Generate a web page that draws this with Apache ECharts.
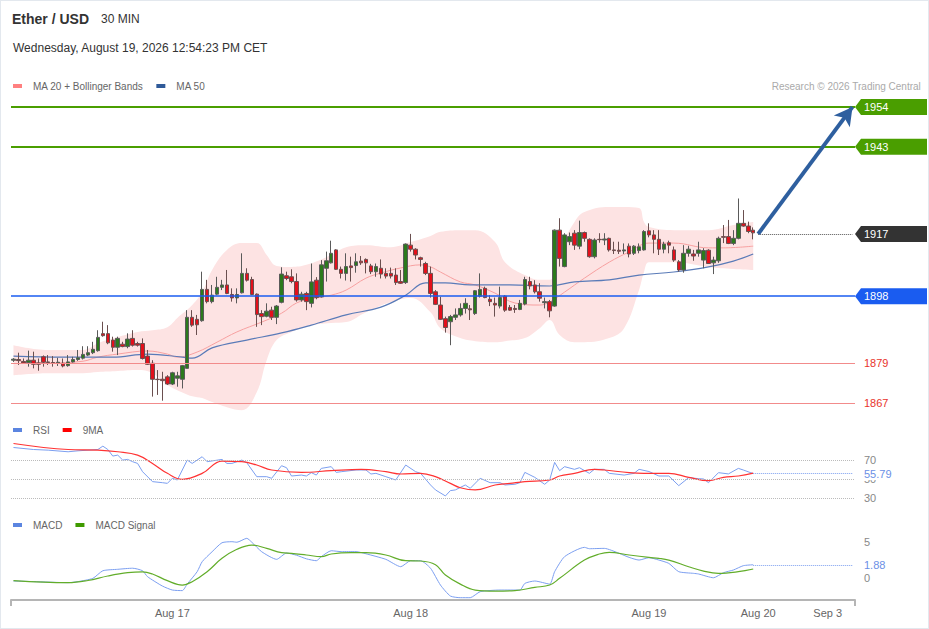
<!DOCTYPE html>
<html>
<head>
<meta charset="utf-8">
<script src="https://cdn.jsdelivr.net/npm/echarts@6/dist/echarts.min.js"></script>
<style>
html,body{margin:0;padding:0;background:#fff;}
#wrap{position:relative;width:929px;height:629px;}
#main{position:absolute;left:0;top:0;width:929px;height:629px;}
#frame{position:absolute;left:0;top:0;width:929px;height:629px;box-sizing:border-box;border:1px solid #e3e8ee;pointer-events:none;}
</style>
</head>
<body>
<div id="wrap"><div id="main"></div><div id="frame"></div></div>
<script>
// ---------- DATA ----------
const slotCount = 170; // 150 half-hour candles + empty space on the right
const xTickIndex = [32, 80, 128, 150, 164];
const xTickText = ['Aug 17', 'Aug 18', 'Aug 19', 'Aug 20', 'Sep 3'];

// candles: [open, close, low, high]
const candles = [
[1879.6,1879.9,1879.1,1880.2],[1879.8,1879.5,1878.2,1881.8],[1879.2,1878.8,1878.5,1880.1],[1878.9,1879.6,1877.7,1882.4],
[1879.6,1878.4,1877.2,1882.1],[1878.8,1878.4,1876.5,1880.1],[1880.6,1879.0,1877.7,1881.0],[1879.1,1878.9,1878.2,1881.1],
[1878.9,1878.8,1877.7,1880.8],[1878.8,1879.0,1877.9,1880.3],[1878.7,1877.9,1877.5,1880.1],[1878.0,1879.1,1877.7,1881.1],
[1879.1,1879.8,1878.9,1880.6],[1879.8,1880.3,1879.4,1882.6],[1880.2,1881.3,1879.8,1883.7],[1881.1,1881.8,1880.8,1883.7],
[1881.8,1882.8,1881.4,1885.0],[1882.4,1886.3,1882.1,1888.4],[1887.4,1886.8,1886.5,1890.9],[1887.4,1884.7,1884.3,1889.9],
[1885.5,1883.4,1882.1,1886.5],[1883.4,1886.0,1881.1,1886.5],[1884.3,1883.6,1883.4,1885.0],[1883.6,1885.8,1883.1,1887.5],
[1886.0,1884.0,1883.6,1888.4],[1884.5,1884.0,1883.6,1885.0],[1884.5,1880.1,1879.8,1886.0],[1880.8,1878.4,1878.2,1882.6],
[1878.7,1874.0,1868.9,1879.6],[1874.0,1873.9,1869.4,1876.7],[1874.0,1873.6,1867.7,1876.2],[1874.7,1872.6,1872.3,1875.2],
[1872.6,1875.9,1872.3,1876.2],[1874.3,1875.0,1871.8,1876.2],[1874.0,1878.0,1871.3,1878.2],[1877.2,1892.2,1877.2,1894.3],
[1892.2,1889.9,1889.4,1894.3],[1891.6,1890.0,1887.0,1892.9],[1891.2,1900.4,1890.9,1905.6],[1900.4,1896.8,1896.3,1903.2],
[1896.8,1898.7,1896.3,1901.7],[1899.0,1901.0,1898.7,1904.1],[1901.0,1901.7,1900.2,1903.2],[1901.7,1899.2,1899.0,1906.1],
[1898.9,1897.9,1896.8,1900.7],[1897.9,1898.9,1896.3,1900.7],[1899.4,1905.1,1899.2,1911.0],[1905.1,1903.1,1902.7,1906.6],
[1903.3,1898.9,1898.7,1904.1],[1899.0,1893.0,1889.4,1899.2],[1893.3,1892.4,1889.9,1894.3],[1892.5,1894.0,1892.2,1896.3],
[1894.3,1892.2,1891.4,1895.3],[1892.2,1895.5,1890.2,1895.8],[1896.6,1904.9,1896.3,1906.9],[1904.4,1903.6,1903.1,1905.6],
[1904.1,1902.7,1902.2,1906.3],[1902.7,1897.3,1896.8,1905.1],[1897.3,1899.0,1896.8,1899.7],[1899.2,1896.8,1894.3,1899.7],
[1896.3,1902.6,1895.1,1908.0],[1903.1,1898.0,1897.5,1904.0],[1898.2,1907.6,1898.0,1909.0],[1906.6,1908.8,1902.7,1911.5],
[1908.2,1911.0,1908.0,1914.7],[1912.0,1906.3,1906.1,1912.2],[1906.3,1905.1,1903.6,1907.1],[1905.1,1907.1,1903.0,1911.0],
[1907.3,1906.8,1902.7,1910.0],[1907.4,1908.5,1905.3,1911.0],[1908.7,1908.2,1907.6,1910.2],[1909.2,1908.2,1905.1,1909.5],
[1907.3,1905.6,1904.9,1907.9],[1905.6,1907.1,1904.1,1908.0],[1906.6,1904.9,1903.6,1909.2],[1905.1,1904.3,1903.6,1906.6],
[1905.1,1904.3,1903.6,1906.8],[1904.6,1902.4,1901.7,1906.6],[1902.7,1902.2,1902.0,1906.1],[1902.4,1913.7,1902.0,1913.9],
[1913.4,1912.2,1911.5,1916.7],[1912.2,1910.5,1909.2,1912.5],[1909.7,1909.2,1907.1,1910.0],[1908.0,1905.1,1904.6,1908.5],
[1905.1,1899.2,1898.0,1907.1],[1899.7,1896.0,1895.8,1900.2],[1895.8,1891.6,1891.4,1898.2],[1891.8,1889.2,1887.7,1892.4],
[1890.9,1892.4,1884.0,1892.9],[1892.2,1892.9,1891.4,1894.8],[1892.9,1894.8,1892.4,1896.3],[1894.8,1896.3,1893.3,1897.8],
[1894.7,1894.4,1891.4,1895.8],[1893.3,1900.0,1892.9,1900.2],[1898.4,1900.4,1898.0,1905.1],[1900.7,1898.0,1897.8,1901.2],
[1897.5,1896.8,1895.5,1898.7],[1896.3,1895.8,1892.4,1898.0],[1895.5,1898.0,1894.8,1901.2],[1898.4,1894.3,1893.8,1898.7],
[1895.1,1894.3,1894.1,1895.8],[1894.8,1894.5,1893.5,1895.8],[1894.5,1896.3,1894.3,1897.3],[1896.1,1903.3,1895.7,1904.1],
[1902.7,1901.4,1900.4,1904.1],[1901.7,1899.7,1899.2,1903.1],[1899.7,1897.8,1896.8,1902.2],[1896.5,1896.8,1894.8,1898.0],
[1896.8,1894.1,1892.2,1897.3],[1895.5,1917.8,1895.3,1918.0],[1917.8,1909.5,1907.1,1921.3],[1907.1,1916.4,1906.9,1916.9],
[1914.4,1915.9,1913.4,1917.1],[1916.9,1913.4,1912.0,1917.8],[1913.1,1917.1,1912.2,1920.6],[1917.1,1915.4,1914.4,1917.4],
[1915.1,1910.0,1909.7,1915.4],[1910.0,1914.9,1909.5,1915.4],[1915.1,1915.0,1914.1,1916.9],[1914.9,1915.2,1913.4,1916.9],
[1915.4,1912.0,1911.5,1915.6],[1912.0,1911.8,1910.8,1914.4],[1911.9,1911.6,1910.8,1914.4],[1911.7,1912.0,1910.8,1913.9],
[1913.1,1910.8,1909.8,1913.9],[1911.0,1913.1,1910.5,1913.4],[1911.8,1912.9,1911.0,1913.9],[1912.0,1917.4,1911.8,1917.8],
[1917.6,1916.4,1915.7,1919.8],[1916.4,1915.1,1911.0,1917.8],[1915.1,1912.2,1910.5,1917.8],[1912.2,1913.7,1911.0,1914.4],
[1914.1,1913.4,1911.0,1914.7],[1912.0,1909.0,1908.5,1913.0],[1908.5,1906.1,1905.6,1909.0],[1906.1,1911.0,1905.3,1913.4],
[1911.0,1912.2,1910.0,1913.2],[1910.8,1910.2,1908.8,1912.0],[1911.0,1912.0,1910.0,1914.4],[1909.0,1911.8,1906.6,1912.5],
[1911.9,1908.0,1907.9,1912.2],[1908.2,1909.0,1904.9,1910.0],[1908.8,1915.4,1908.2,1915.9],[1915.9,1915.7,1914.0,1919.3],
[1915.9,1913.9,1913.7,1920.8],[1913.9,1915.4,1913.4,1917.8],[1915.4,1919.8,1915.1,1927.1],[1919.8,1919.0,1918.8,1923.7],
[1919.0,1917.4,1916.9,1920.3],[1917.8,1917.0,1915.1,1918.6]
];

// Bollinger band samples [candle index, price]
const bbUpper = [[0,1884.0],[7,1882.6],[14,1882.6],[17,1884.6],[21,1886.4],[25,1887.9],[28,1888.4],[31,1889.3],[33,1892.0],[36,1895.8],[38,1899.6],[40,1906.1],[43,1912.0],[46,1914.0],[49,1914.0],[51,1910.5],[53,1907.3],[56,1907.0],[59,1907.6],[64,1910.5],[67,1912.8],[71,1913.4],[76,1912.8],[80,1914.3],[84,1916.1],[86,1917.3],[90,1917.8],[93,1917.8],[97,1914.3],[99,1908.4],[103,1904.6],[106,1903.2],[108,1903.2],[110,1912.0],[113,1920.2],[115,1923.1],[120,1924.6],[123,1924.6],[126,1924.3],[127,1920.2],[128,1918.7],[133,1917.8],[140,1917.8],[145,1919.3],[149,1920.2]];
const bbLower = [[0,1875.2],[7,1875.8],[14,1875.8],[17,1876.1],[21,1876.4],[25,1876.7],[28,1875.8],[31,1872.3],[33,1870.8],[36,1869.0],[38,1868.5],[40,1867.3],[43,1865.8],[46,1864.9],[49,1870.2],[51,1879.6],[53,1885.5],[56,1887.9],[59,1889.6],[64,1890.5],[67,1890.8],[71,1893.7],[76,1896.7],[80,1897.9],[84,1893.7],[86,1889.0],[90,1886.1],[93,1885.2],[97,1884.9],[99,1885.2],[103,1886.1],[106,1889.0],[108,1891.4],[110,1887.0],[113,1884.9],[115,1884.9],[120,1886.1],[123,1889.0],[126,1900.2],[127,1905.5],[128,1908.4],[133,1908.4],[140,1907.0],[145,1906.4],[149,1906.1]];
const ma20 = [[0,1879.6],[7,1878.8],[14,1879.3],[17,1880.5],[21,1881.4],[27,1882.3],[31,1881.4],[33,1880.5],[37,1882.0],[41,1884.9],[45,1887.9],[50,1890.8],[54,1893.4],[57,1896.4],[60,1897.6],[64,1898.7],[67,1900.2],[71,1903.7],[74,1905.2],[78,1906.7],[82,1907.6],[84,1907.0],[86,1905.5],[90,1902.6],[93,1901.7],[97,1899.3],[101,1896.4],[106,1895.8],[108,1896.7],[111,1899.6],[115,1903.7],[120,1908.4],[124,1911.4],[128,1914.0],[133,1914.0],[140,1912.6],[143,1912.6],[149,1913.1]];
const ma50 = [[0,1880.8],[10,1880.5],[20,1880.5],[27,1881.4],[34,1880.5],[36,1880.2],[40,1883.2],[47,1885.5],[54,1887.6],[60,1889.9],[67,1892.9],[74,1895.2],[79,1898.7],[83,1902.3],[87,1902.3],[92,1901.7],[100,1901.7],[108,1901.4],[113,1902.6],[120,1903.2],[126,1904.6],[133,1905.5],[140,1907.0],[145,1908.7],[149,1910.8]];

// key levels: exact level value and its rounded label
const levelValues = [1954.0, 1942.3, 1916.7, 1898.4, 1878.8, 1867.0];
const levelLabels = ['1954', '1943', '1917', '1898', '1879', '1867'];

// RSI [index, value]
const rsi = [[0,83.2],[4,81.1],[7,80.4],[11,78.7],[13,79.7],[17,81.1],[18,84.6],[19,81.1],[20,74.2],[21,75.2],[22,70],[23,70.7],[24,68.3],[25,66.5],[26,57.8],[28,47.4],[30,46.3],[31,45.6],[32,50.9],[33,49.1],[35,70],[36,66.5],[38,73.5],[39,68.3],[42,70.7],[43,66.5],[44,66.5],[46,70],[47,67.2],[49,52.6],[51,52.6],[52,50.9],[54,64.1],[55,62.0],[56,53.3],[58,54.3],[59,53.3],[60,56.8],[61,54.3],[62,61.3],[64,63.1],[65,57.1],[66,57.8],[69,59.6],[71,59.6],[72,55.4],[73,56.1],[75,52.6],[77,49.1],[79,64.8],[81,57.8],[82,56.1],[84,43.9],[85,38.7],[87,32.4],[88,38.0],[89,38.7],[91,43.9],[92,40.4],[94,50.9],[96,46.3],[98,46.3],[99,43.9],[101,44.6],[102,46.3],[103,57.1],[105,51.9],[107,44.6],[108,49.1],[109,67.6],[110,58.9],[111,63.1],[113,60.3],[114,62.0],[116,56.1],[117,60.3],[119,60.3],[120,56.1],[123,54.3],[125,56.1],[126,60.3],[128,58.0],[130,53.3],[132,53.3],[134,43.2],[136,51.6],[138,50.5],[139,50.2],[140,46.3],[142,56.8],[144,55.5],[146,61.3],[147,59.6],[149,55.79]];
const rsiMA9 = [[0,87.4],[11,81.1],[17,80.4],[21,78.7],[25,75.2],[28,66.5],[31,56.1],[34,49.8],[38,56.1],[42,69.0],[46,68.3],[49,64.8],[52,59.6],[58,57.1],[64,58.9],[70,60.3],[75,57.8],[78,55.4],[82,56.1],[85,52.6],[88,45.6],[90,41.0],[93,38.7],[97,43.9],[100,45.6],[103,47.4],[108,49.1],[110,53.3],[113,56.1],[117,60.3],[119,59.6],[124,56.8],[127,56.1],[132,56.1],[136,51.9],[140,48.4],[143,51.9],[146,53.3],[149,56.3]];
const rsiLast = 55.79;

// MACD [index, value]
const macd = [[0,-0.37],[4,-0.45],[11,-0.6],[13,-0.45],[16,0],[18,1.05],[21,1.25],[24,1.4],[26,1.05],[27,0.23],[30,-1.07],[32,-1.62],[34,-1.7],[35,-0.79],[37,0.92],[38,2.3],[40,3.68],[42,4.93],[44,5.07],[45,5.0],[47,5.54],[48,5.0],[50,3.68],[53,2.63],[55,3.5],[57,3.2],[59,2.7],[61,2.44],[62,3.0],[64,3.82],[66,3.7],[69,3.7],[71,3.4],[75,2.63],[78,1.61],[80,2.44],[82,2.44],[84,1.4],[86,-0.93],[88,-2.45],[90,-2.68],[92,-2.68],[94,-1.85],[98,-1.62],[102,-1.62],[103,-0.7],[105,-0.37],[108,-0.79],[109,0.92],[111,3.0],[115,4.29],[116,4.1],[119,4.15],[122,3.46],[124,2.9],[126,2.53],[128,2.86],[130,2.53],[132,2.07],[134,0.92],[137,0.69],[138,0.6],[141,0.08],[143,0.78],[145,1.15],[147,1.75],[149,1.88]];
const macdSignal = [[0,-0.32],[11,-0.6],[15,-0.3],[19,0.32],[23,0.78],[26,0.9],[28,0.6],[31,-0.32],[34,-0.93],[36,-0.46],[39,0.92],[42,2.77],[45,4.02],[48,4.61],[51,4.15],[54,3.55],[56,3.46],[59,3.23],[62,3.0],[64,3.37],[68,3.55],[71,3.55],[75,3.23],[79,2.44],[82,2.4],[85,1.89],[87,0.46],[90,-0.8],[93,-1.62],[97,-1.76],[101,-1.7],[105,-1.25],[108,-0.93],[110,0],[115,2.53],[118,3.37],[120,3.6],[124,3.23],[128,2.9],[130,2.77],[132,2.53],[136,1.61],[139,1.0],[142,0.69],[146,0.92],[149,1.29]];
const macdLast = 1.88;

// ---------- CHART ----------
const FONT = '"Liberation Sans", Arial, Helvetica, sans-serif';
const categories = Array.from({length: slotCount}, (_, i) => String(i));
const lastIdx = candles.length - 1;
const endIdx = slotCount - 1;
const lastClose = levelValues[2];
const targetLevel = levelValues[0];
const bbRange = bbUpper.map((p, k) => [p[0], +(p[1] - bbLower[k][1]).toFixed(2)]);

const GRID_L = 11, GRID_R = 74;
const chart = echarts.init(document.getElementById('main'), null, {renderer: 'svg'});

const legendCommon = {
  icon: 'rect', itemWidth: 9, itemHeight: 4, itemGap: 13, padding: 0, selectedMode: false,
  textStyle: {fontSize: 10, color: '#666', fontFamily: FONT, padding: [0, 0, 0, 6]}
};

const option = {
  animation: false,
  textStyle: {fontFamily: FONT},
  title: [
    {text: 'Ether / USD', left: 12, top: 12, padding: 0, textStyle: {fontSize: 14, fontWeight: 'bold', color: '#333', fontFamily: FONT}},
    {text: '30 MIN', left: 101, top: 13, padding: 0, textStyle: {fontSize: 12, fontWeight: 'normal', color: '#333', fontFamily: FONT}},
    {text: 'Wednesday, August 19, 2026 12:54:23 PM CET', left: 13, top: 42, padding: 0, textStyle: {fontSize: 12, fontWeight: 'normal', color: '#333', fontFamily: FONT}},
    {text: 'Research © 2026 Trading Central', right: 8, top: 81, padding: 0, textStyle: {fontSize: 10, fontWeight: 'normal', color: '#aaa', fontFamily: FONT}}
  ],
  legend: [
    Object.assign({}, legendCommon, {left: 13, top: 81, data: [
      {name: 'MA 20 + Bollinger Bands', itemStyle: {color: '#ff8080'}},
      {name: 'MA 50', itemStyle: {color: '#2f5a99'}}]}),
    Object.assign({}, legendCommon, {left: 13, top: 425, data: [
      {name: 'RSI', itemStyle: {color: '#5b85e0'}},
      {name: '9MA', itemStyle: {color: '#ff0000'}}]}),
    Object.assign({}, legendCommon, {left: 13, top: 520, data: [
      {name: 'MACD', itemStyle: {color: '#5b85e0'}},
      {name: 'MACD Signal', itemStyle: {color: '#3f9a00'}}]})
  ],
  grid: [
    {left: GRID_L, right: GRID_R, top: 95, height: 320},
    {left: GRID_L, right: GRID_R, top: 441, height: 62},
    {left: GRID_L, right: GRID_R, top: 535, height: 65}
  ],
  xAxis: [
    {type: 'category', gridIndex: 0, data: categories, boundaryGap: true, show: false},
    {type: 'category', gridIndex: 1, data: categories, boundaryGap: true, show: false},
    {type: 'category', gridIndex: 2, data: categories, boundaryGap: true, position: 'bottom',
      axisLine: {onZero: false, lineStyle: {color: '#b5b5b5', width: 2}},
      axisTick: {show: true, interval: (i) => i === 0, length: 6, lineStyle: {color: '#b5b5b5', width: 2}},
      axisLabel: {
        interval: (i) => xTickIndex.indexOf(i) >= 0,
        formatter: (v, i) => { const k = xTickIndex.indexOf(Number(v)); return k >= 0 ? xTickText[k] : ''; },
        color: '#666', fontSize: 11, margin: 7, fontFamily: FONT
      },
      splitLine: {show: false}}
  ],
  yAxis: [
    {type: 'value', gridIndex: 0, min: 1863.5, max: 1957.5, show: false, splitLine: {show: false}},
    {type: 'value', gridIndex: 1, min: 25, max: 90, position: 'right',
      axisLine: {show: false}, axisTick: {show: false}, splitLine: {show: false},
      axisLabel: {customValues: [30, 50, 70], color: '#888', fontSize: 11, margin: 9, fontFamily: FONT}},
    {type: 'value', gridIndex: 2, min: -3, max: 6, position: 'right',
      axisLine: {show: false}, axisTick: {show: false}, splitLine: {show: false},
      axisLabel: {customValues: [0, 5], color: '#888', fontSize: 11, margin: 9, fontFamily: FONT}}
  ],
  series: [
    {name: 'BB lower', type: 'line', xAxisIndex: 0, yAxisIndex: 0, data: bbLower, stack: 'bb', smooth: 0.4,
      symbol: 'none', silent: true, lineStyle: {opacity: 0}, z: 1},
    {name: 'BB range', type: 'line', xAxisIndex: 0, yAxisIndex: 0, data: bbRange, stack: 'bb', smooth: 0.4,
      symbol: 'none', silent: true, lineStyle: {opacity: 0}, areaStyle: {color: '#fde3e3', opacity: 1}, z: 1},
    {name: 'MA 20 + Bollinger Bands', type: 'line', xAxisIndex: 0, yAxisIndex: 0, data: ma20, smooth: 0.4,
      symbol: 'none', silent: true, color: '#ff8080', lineStyle: {color: '#f7a0a0', width: 1}, z: 2},
    {name: 'MA 50', type: 'line', xAxisIndex: 0, yAxisIndex: 0, data: ma50, smooth: 0.4,
      symbol: 'none', silent: true, color: '#2f5a99', lineStyle: {color: '#5a7bb8', width: 1.2}, z: 2},
    {name: 'Ether / USD', type: 'candlestick', xAxisIndex: 0, yAxisIndex: 0, data: candles, barWidth: 4, z: 3,
      itemStyle: {color: '#2b7a1c', color0: '#e3101b', borderColor: '#5a5a5a', borderColor0: '#6a4f4f', borderWidth: 1},
      markLine: {
        silent: true, symbol: ['none', 'none'], label: {show: false}, animation: false,
        data: [
          {yAxis: levelValues[0], lineStyle: {color: '#4a9e00', width: 2, type: 'solid'}},
          {yAxis: levelValues[1], lineStyle: {color: '#4a9e00', width: 2, type: 'solid'}},
          {yAxis: levelValues[3], lineStyle: {color: '#1a5cf0', width: 1.5, type: 'solid'}},
          {yAxis: levelValues[4], lineStyle: {color: '#f28b8b', width: 1, type: 'solid'}},
          {yAxis: levelValues[5], lineStyle: {color: '#f28b8b', width: 1, type: 'solid'}},
          [{coord: [lastIdx + 1, lastClose], lineStyle: {color: '#555', width: 1, type: 'dotted'}},
           {coord: [endIdx, lastClose]}],
          [{coord: [lastIdx + 1, lastClose], symbol: 'none', lineStyle: {color: '#2e5f9f', width: 4, type: 'solid'}},
           {coord: [endIdx, targetLevel], symbol: 'arrow', symbolSize: [15, 18]}]
        ]
      }},
    {name: 'RSI', type: 'line', xAxisIndex: 1, yAxisIndex: 1, data: rsi, symbol: 'none', silent: true,
      color: '#5b85e0', lineStyle: {color: '#7c9ff0', width: 1}, z: 3,
      markLine: {
        silent: true, symbol: ['none', 'none'], label: {show: false}, animation: false,
        data: [
          {yAxis: 70, lineStyle: {color: '#bbb', width: 1, type: 'dotted'}},
          {yAxis: 50, lineStyle: {color: '#bbb', width: 1, type: 'dotted'}},
          {yAxis: 30, lineStyle: {color: '#bbb', width: 1, type: 'dotted'}},
          [{coord: [lastIdx, rsiLast], lineStyle: {color: '#7c9ff0', width: 1, type: 'dotted'}}, {coord: [endIdx, rsiLast]}]
        ]
      }},
    {name: '9MA', type: 'line', xAxisIndex: 1, yAxisIndex: 1, data: rsiMA9, smooth: 0.4, symbol: 'none', silent: true,
      color: '#ff0000', lineStyle: {color: '#ff3333', width: 1.2}, z: 4},
    {name: 'MACD', type: 'line', xAxisIndex: 2, yAxisIndex: 2, data: macd, smooth: 0.2, symbol: 'none', silent: true,
      color: '#5b85e0', lineStyle: {color: '#7c9ff0', width: 1}, z: 3,
      markLine: {
        silent: true, symbol: ['none', 'none'], label: {show: false}, animation: false,
        data: [[{coord: [lastIdx, macdLast], lineStyle: {color: '#7c9ff0', width: 1, type: 'dotted'}}, {coord: [endIdx, macdLast]}]]
      }},
    {name: 'MACD Signal', type: 'line', xAxisIndex: 2, yAxisIndex: 2, data: macdSignal, smooth: 0.4, symbol: 'none', silent: true,
      color: '#3f9a00', lineStyle: {color: '#62ad2a', width: 1.2}, z: 4}
  ]
};
chart.setOption(option);

// ---------- right-hand level labels (positioned via the axis scales) ----------
const rightX = 929 - GRID_R; // tip of label arrows = right edge of plot
const boxW = 927 - rightX;
function levelBox(k, color) {
  const y = chart.convertToPixel({yAxisIndex: 0}, levelValues[k]);
  return [
    {type: 'polygon', silent: true, z: 10, shape: {points: [[rightX, y], [rightX + 6, y - 8], [rightX + boxW, y - 8], [rightX + boxW, y + 8], [rightX + 6, y + 8]]}, style: {fill: color}},
    {type: 'text', silent: true, z: 11, x: rightX + 9, y: y, style: {text: levelLabels[k], fill: '#fff', fontSize: 11, fontFamily: FONT, verticalAlign: 'middle', align: 'left'}}
  ];
}
function levelText(k, color) {
  const y = chart.convertToPixel({yAxisIndex: 0}, levelValues[k]);
  return [{type: 'text', silent: true, z: 11, x: rightX + 9, y: y, style: {text: levelLabels[k], fill: color, fontSize: 11, fontFamily: FONT, verticalAlign: 'middle', align: 'left'}}];
}
function lastValueText(axisIdx, value) {
  const y = chart.convertToPixel({yAxisIndex: axisIdx}, value);
  return [{type: 'text', silent: true, z: 12, x: rightX + 9, y: y, style: {text: String(value), fill: '#6b8fe6', fontSize: 11, fontFamily: FONT, verticalAlign: 'middle', align: 'left', backgroundColor: '#fff', padding: [1, 2, 1, 0]}}];
}
const graphics = [].concat(
  levelBox(0, '#4a9e00'),
  levelBox(1, '#4a9e00'),
  levelBox(2, '#333333'),
  levelBox(3, '#1a5cf0'),
  levelText(4, '#e8332a'),
  levelText(5, '#e8332a'),
  lastValueText(1, rsiLast),
  lastValueText(2, macdLast)
);
chart.setOption({graphic: graphics});
</script>
</body>
</html>
